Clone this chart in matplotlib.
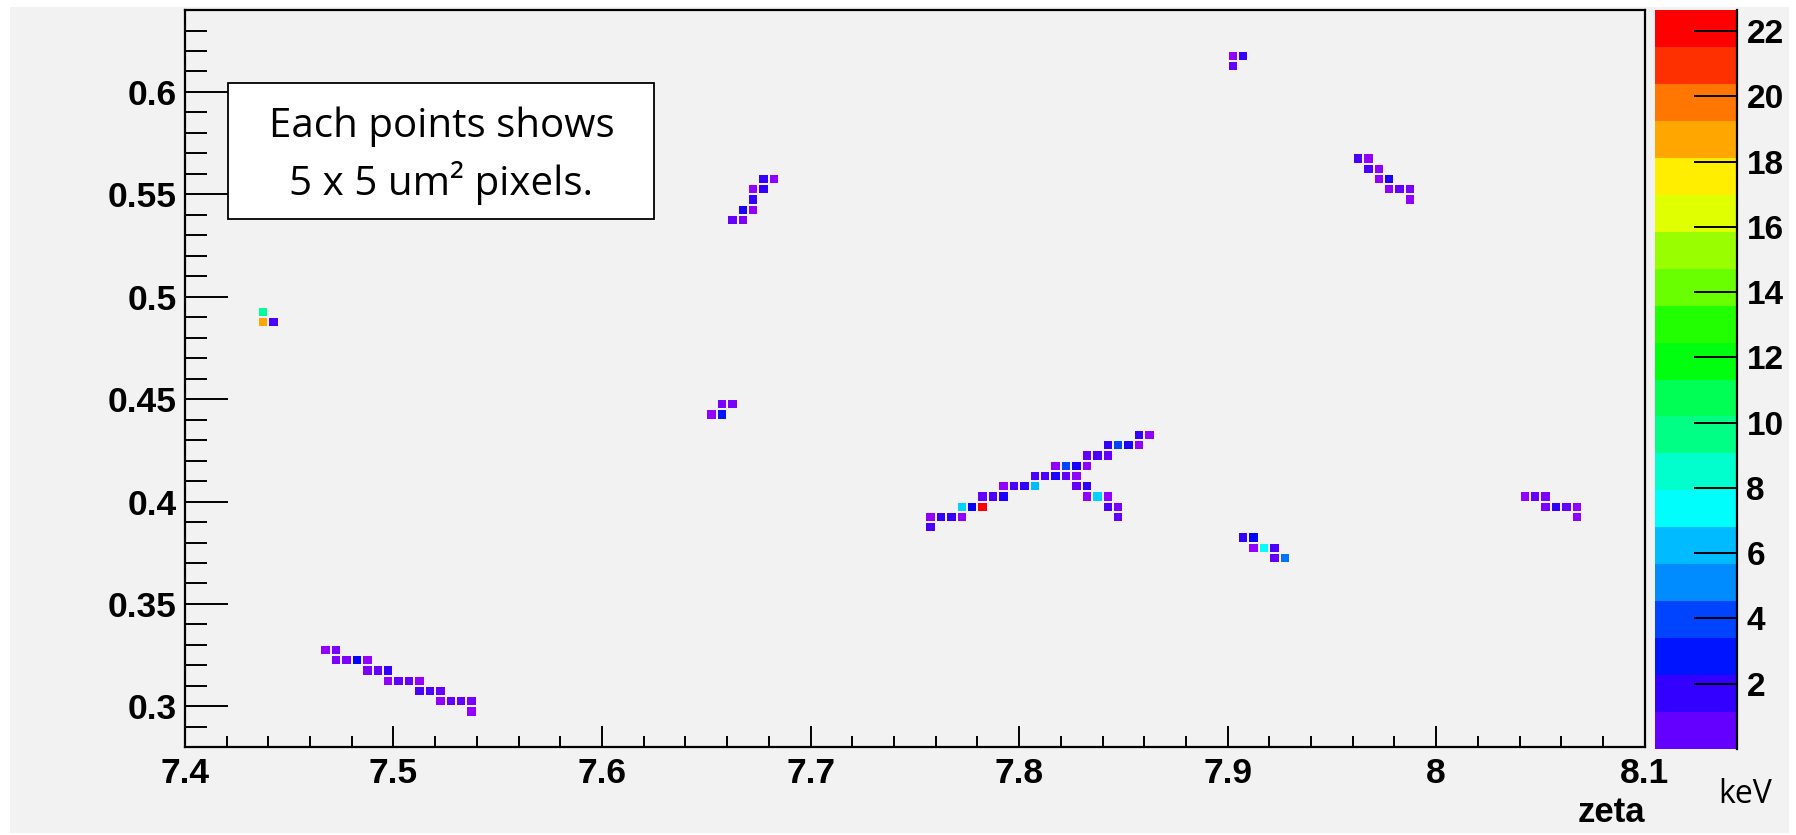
import colorsys
import numpy as np
import matplotlib
matplotlib.use("Agg")
import matplotlib.pyplot as plt
from matplotlib.colors import ListedColormap, BoundaryNorm
from matplotlib.cm import ScalarMappable
from matplotlib.patches import Rectangle
from matplotlib.ticker import MultipleLocator, FuncFormatter

# ---------------- data: hit pixels (bin centres) and deposited energy ----------------
hit_zeta = [
    # track bottom-left
    7.4675, 7.4725,
    7.4725, 7.4775, 7.4825, 7.4875,
    7.4875, 7.4925, 7.4975,
    7.4975, 7.5025, 7.5075, 7.5125,
    7.5125, 7.5175, 7.5225,
    7.5225, 7.5275, 7.5325, 7.5375,
    7.5375,
    # small cluster left
    7.4375, 7.4375, 7.4425,
    # track near (7.67, 0.55)
    7.6775, 7.6825,
    7.6725, 7.6775,
    7.6725,
    7.6675, 7.6725,
    7.6625, 7.6675,
    # cluster near (7.66, 0.445)
    7.6575, 7.6625,
    7.6525, 7.6575,
    # long track with branch
    7.8575, 7.8625,
    7.8425, 7.8475, 7.8525, 7.8575,
    7.8325, 7.8375, 7.8425,
    7.8175, 7.8225, 7.8275, 7.8325,
    7.8075, 7.8125, 7.8175, 7.8225, 7.8275,
    7.7925, 7.7975, 7.8025, 7.8075, 7.8275, 7.8325,
    7.7825, 7.7875, 7.7925, 7.8325, 7.8375, 7.8425,
    7.7725, 7.7775, 7.7825, 7.8425, 7.8475,
    7.7575, 7.7625, 7.7675, 7.7725, 7.8475,
    7.7575,
    # top cluster
    7.9025, 7.9075, 7.9025,
    # track near (7.97, 0.56)
    7.9625, 7.9675,
    7.9675, 7.9725,
    7.9725, 7.9775,
    7.9775, 7.9825, 7.9875,
    7.9875,
    # cluster near (7.915, 0.378)
    7.9075, 7.9125,
    7.9125, 7.9175, 7.9225,
    7.9225, 7.9275,
    # cluster near (8.055, 0.398)
    8.0425, 8.0475, 8.0525,
    8.0525, 8.0575, 8.0625, 8.0675,
    8.0675,
]

hit_y = [
    0.3275, 0.3275,
    0.3225, 0.3225, 0.3225, 0.3225,
    0.3175, 0.3175, 0.3175,
    0.3125, 0.3125, 0.3125, 0.3125,
    0.3075, 0.3075, 0.3075,
    0.3025, 0.3025, 0.3025, 0.3025,
    0.2975,
    0.4925, 0.4875, 0.4875,
    0.5575, 0.5575,
    0.5525, 0.5525,
    0.5475,
    0.5425, 0.5425,
    0.5375, 0.5375,
    0.4475, 0.4475,
    0.4425, 0.4425,
    0.4325, 0.4325,
    0.4275, 0.4275, 0.4275, 0.4275,
    0.4225, 0.4225, 0.4225,
    0.4175, 0.4175, 0.4175, 0.4175,
    0.4125, 0.4125, 0.4125, 0.4125, 0.4125,
    0.4075, 0.4075, 0.4075, 0.4075, 0.4075, 0.4075,
    0.4025, 0.4025, 0.4025, 0.4025, 0.4025, 0.4025,
    0.3975, 0.3975, 0.3975, 0.3975, 0.3975,
    0.3925, 0.3925, 0.3925, 0.3925, 0.3925,
    0.3875,
    0.6175, 0.6175, 0.6125,
    0.5675, 0.5675,
    0.5625, 0.5625,
    0.5575, 0.5575,
    0.5525, 0.5525, 0.5525,
    0.5475,
    0.3825, 0.3825,
    0.3775, 0.3775, 0.3775,
    0.3725, 0.3725,
    0.4025, 0.4025, 0.4025,
    0.3975, 0.3975, 0.3975, 0.3975,
    0.3925,
]

hit_kev = [
    0.25, 0.7,
    0.7, 0.7, 2.95, 0.25,
    0.7, 1.15, 2.05,
    0.25, 1.15, 1.15, 0.25,
    1.6, 1.6, 1.15,
    0.25, 1.15, 1.15, 0.7,
    0.25,
    9.7, 19.1, 1.6,
    2.05, 0.25,
    0.25, 2.05,
    2.05,
    2.5, 0.25,
    1.15, 0.7,
    0.7, 0.7,
    0.25, 3.4,
    2.05, 0.25,
    2.05, 4.3, 2.5, 0.25,
    1.15, 1.6, 1.15,
    0.25, 4.3, 2.5, 0.25,
    1.6, 1.6, 2.5, 1.15, 0.25,
    0.25, 1.6, 2.05, 6.6, 1.15, 2.05,
    1.15, 1.6, 2.5, 0.25, 7.0, 0.25,
    7.2, 2.95, 22.65, 1.6, 0.7,
    0.25, 2.05, 2.05, 0.25, 1.15,
    1.6,
    0.25, 2.05, 1.15,
    1.6, 0.25,
    1.6, 0.25,
    0.25, 2.5,
    0.25, 1.15, 0.7,
    0.25,
    2.05, 2.95,
    0.25, 7.9, 1.6,
    1.15, 5.2,
    0.25, 1.15, 0.7,
    0.7, 2.05, 1.15, 0.25,
    0.25,
]

colorbar_ticks = [2, 4, 6, 8, 10, 12, 14, 16, 18, 20, 22]

# ---------------- styling ----------------
BG = "#f2f2f2"
plt.rcParams["font.family"] = ["Liberation Sans", "DejaVu Sans"]
plt.rcParams["font.weight"] = "bold"

# ROOT "pretty" palette: 49 HLS hues from violet to red plus pure red
pal50 = []
for k in range(49):
    hue = 280.0 - (k + 1) * (280.0 / 50)
    pal50.append(colorsys.hls_to_rgb(hue / 360.0, 0.5, 1.0))
pal50.append((1.0, 0.0, 0.0))
band_colors = [pal50[min(int((j + 0.99) * 50 / 20), 49)] for j in range(20)]

zmax = max(hit_kev)
pix_cmap = ListedColormap(pal50)
pix_norm = BoundaryNorm(np.linspace(0, zmax, 51), 50)
bar_cmap = ListedColormap(band_colors)
bar_norm = BoundaryNorm(np.linspace(0, zmax, 21), 20)

# histogram binning: 5 um pixels
xedges = np.linspace(7.4, 8.1, 141)
yedges = np.linspace(0.28, 0.64, 73)
H, _, _ = np.histogram2d(hit_zeta, hit_y, bins=[xedges, yedges], weights=hit_kev)
Z = np.ma.masked_equal(H.T, 0)

fig = plt.figure(figsize=(17.96, 8.35), dpi=100, facecolor="white")
fig.patches.append(Rectangle((0.0054, 0.0024), 0.9907, 0.9896, transform=fig.transFigure,
                             facecolor=BG, edgecolor="none", zorder=-10))

ax = fig.add_axes([0.1029, 0.1050, 0.8129, 0.8830])
ax.set_facecolor(BG)
ax.pcolormesh(xedges, yedges, Z, cmap=pix_cmap, norm=pix_norm,
              edgecolors=BG, linewidth=1.15)
ax.set_xlim(7.4, 8.1)
ax.set_ylim(0.28, 0.64)

fmt = FuncFormatter(lambda v, p: f"{round(v, 3):g}")
ax.xaxis.set_major_locator(MultipleLocator(0.1))
ax.xaxis.set_minor_locator(MultipleLocator(0.02))
ax.yaxis.set_major_locator(MultipleLocator(0.05))
ax.yaxis.set_minor_locator(MultipleLocator(0.01))
ax.xaxis.set_major_formatter(fmt)
ax.yaxis.set_major_formatter(fmt)
ax.tick_params(axis="x", which="major", direction="in", length=15, width=1.4,
               pad=7, labelsize=25.5)
ax.tick_params(axis="x", which="minor", direction="in", length=7.7, width=1.4)
ax.tick_params(axis="y", which="major", direction="in", length=31, width=1.4,
               pad=6, labelsize=25.5)
ax.tick_params(axis="y", which="minor", direction="in", length=15.7, width=1.4)
for s in ax.spines.values():
    s.set_linewidth(1.6)
    s.set_color("black")

# annotation box
ax.add_patch(Rectangle((0.0299, 0.7165), 0.2917, 0.1841, transform=ax.transAxes,
                       facecolor="white", edgecolor="black", linewidth=1.3, zorder=3))
ax.text(0.1757, 0.8273, "Each points shows", transform=ax.transAxes, ha="center",
        va="baseline", family=["Open Sans", "DejaVu Sans"], fontweight="normal",
        fontsize=29, zorder=4)
ax.text(0.1757, 0.7491, "5 x 5 um\u00b2 pixels.", transform=ax.transAxes, ha="center",
        va="baseline", family=["Open Sans", "DejaVu Sans"], fontweight="normal",
        fontsize=29, zorder=4)

fig.text(0.9158, 0.0159, "zeta", ha="right", va="baseline", fontsize=25,
         fontweight="bold")

# colour scale
cax = fig.add_axes([0.9215, 0.1030, 0.0455, 0.8850])
sm = ScalarMappable(norm=bar_norm, cmap=bar_cmap)
cb = fig.colorbar(sm, cax=cax, ticks=colorbar_ticks)
cb.outline.set_visible(False)
cax.yaxis.set_major_formatter(FuncFormatter(lambda v, p: f"{v:g}"))
cax.tick_params(axis="y", which="major", direction="in", length=31, width=1.4,
                pad=7, labelsize=24, right=True, left=False)
cax.minorticks_off()
cax.plot([1, 1], [0, 1], transform=cax.transAxes, color="black", lw=1.6,
         clip_on=False, zorder=5)

fig.text(0.9718, 0.038, "keV", ha="center", va="baseline",
         family=["Open Sans", "DejaVu Sans"], fontweight="normal", fontsize=23)

fig.savefig("out.png", dpi=100, facecolor=fig.get_facecolor())
